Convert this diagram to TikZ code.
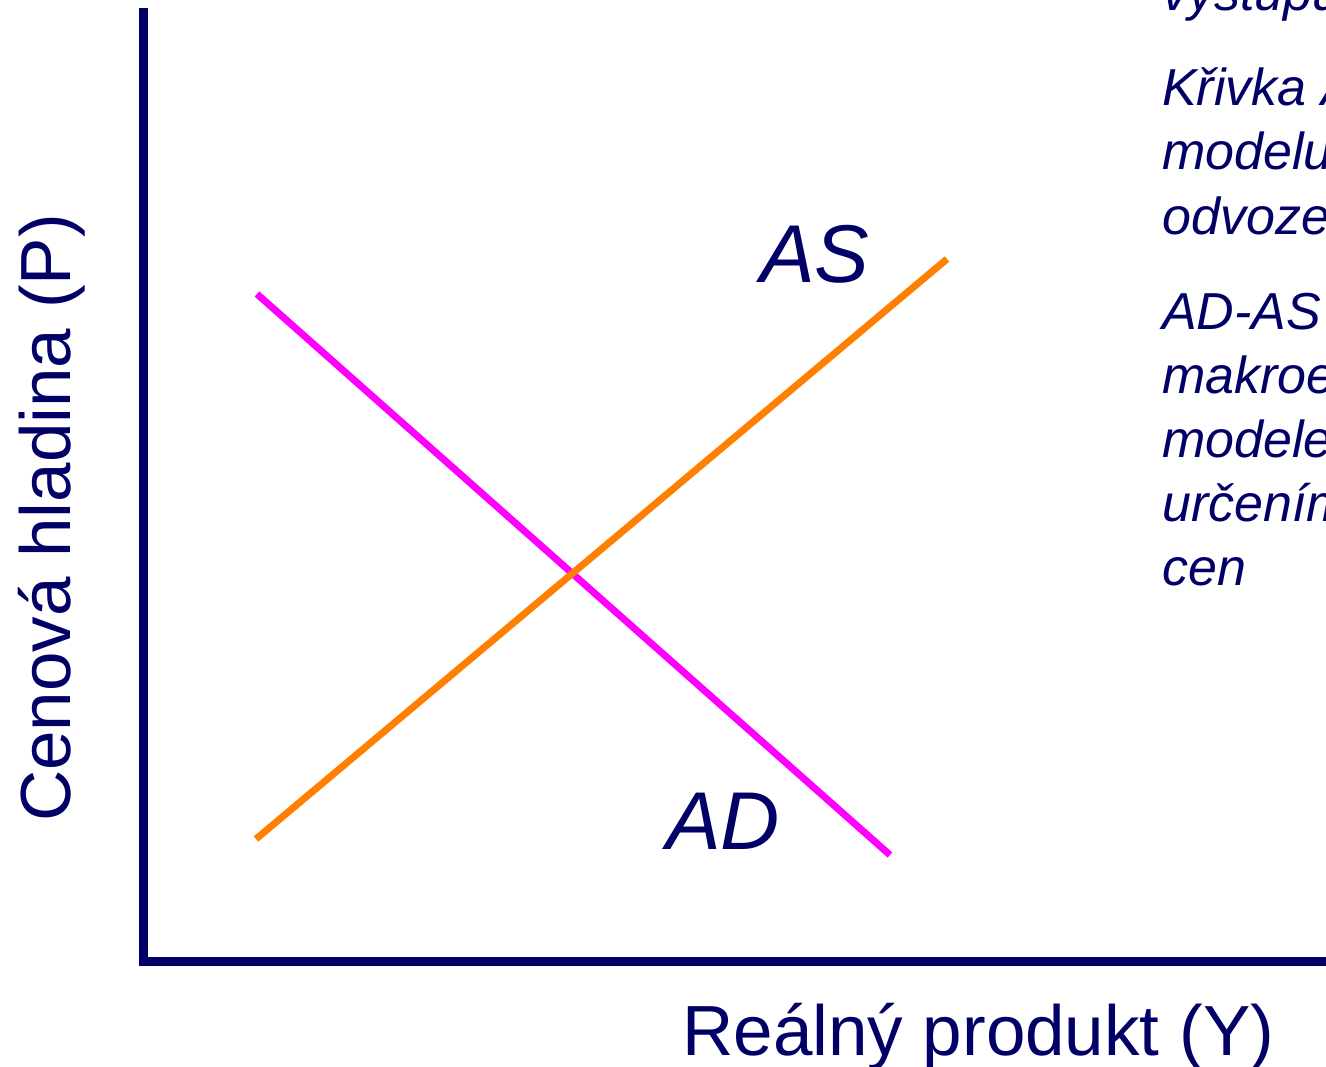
\documentclass[tikz,border=0pt]{standalone}
\usepackage{fontspec}
\setmainfont{Liberation Sans}
\definecolor{navy}{RGB}{0,0,102}
\definecolor{asorange}{RGB}{255,128,0}
\definecolor{admagenta}{RGB}{255,0,255}
\begin{document}
\begin{tikzpicture}[x=0.75pt,y=-0.75pt,
  axisline/.style={draw=navy,line width=6.75pt,line cap=butt,line join=miter},
  curve/.style={line width=5.25pt,line cap=butt},
  axislabel/.style={text=navy,inner sep=0pt,font=\fontsize{53.25}{60}\selectfont},
  curvelabel/.style={text=navy,inner sep=0pt,font=\fontsize{61.5}{70}\selectfont\itshape},
  sidetext/.style={text=navy,inner sep=0pt,anchor=base west,font=\fontsize{39}{47}\selectfont\itshape}]
\useasboundingbox (0,0) rectangle (1326,1066);
\clip (0,0) rectangle (1326,1066);
\fill[white] (0,0) rectangle (1326,1066);
% axes
\coordinate (ytop) at (143.5,8);
\coordinate (xend) at (1330,961.5);
\draw[axisline] (ytop) |- (xend);
% curves
\coordinate (ad1) at (257,294);
\coordinate (ad2) at (890,855);
\coordinate (as1) at (256,839);
\coordinate (as2) at (947,259);
\draw[curve,admagenta] (ad1) -- (ad2);
\draw[curve,asorange] (as1) -- (as2);
% curve labels
\node[curvelabel,anchor=base west] (aslab) at (760,282) {AS};
\node[curvelabel,anchor=base west] (adlab) at (666,849) {AD};
% axis labels
\node[axislabel,anchor=base west] (xlab) at (682,1055) {Reálný produkt (Y)};
\node[axislabel,anchor=base,rotate=90] (ylab) at (70,518) {Cenová hladina (P)};
% side text (cut off at the right edge, as in the reference)
\node[sidetext] (t0) at (1162,11) {výstupu};
\node[sidetext] (t1) at (1162,106) {Křivka AS};
\node[sidetext] (t2) at (1162,170) {modelu};
\node[sidetext] (t3) at (1162,234) {odvozena};
\node[sidetext] (t4) at (1162,329) {AD-AS};
\node[sidetext] (t5) at (1162,393) {makroekonomickým};
\node[sidetext] (t6) at (1162,457) {modelem};
\node[sidetext] (t7) at (1162,521) {určením};
\node[sidetext] (t8) at (1162,585) {cen};
\end{tikzpicture}
\end{document}
